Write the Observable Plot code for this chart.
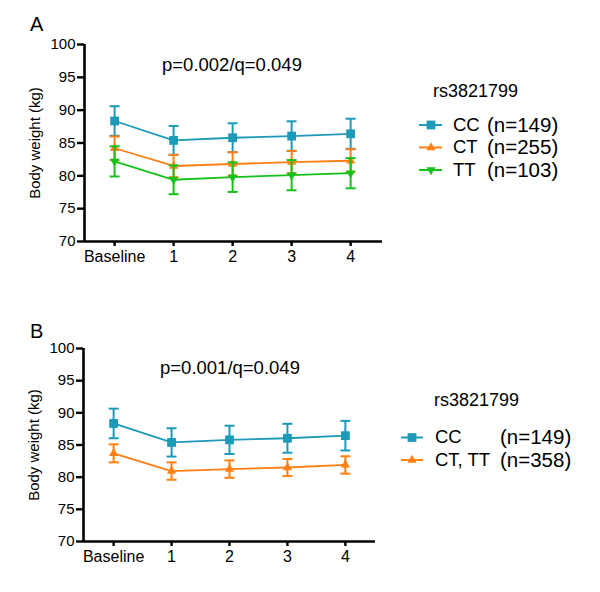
<!DOCTYPE html>
<html><head><meta charset="utf-8">
<script src="https://cdn.jsdelivr.net/npm/d3@7"></script>
<script src="https://cdn.jsdelivr.net/npm/@observablehq/plot@0.6"></script>
<style>
body{margin:0;background:#fff;font-family:"Liberation Sans",Arial,sans-serif;}
#root{position:relative;width:600px;height:592px;overflow:hidden;background:#fff;}
.abs{position:absolute;white-space:nowrap;line-height:1;color:#000;}
.plot{position:absolute;left:0;}
</style></head><body><div id="root"></div>
<script>
// ---- data ----
const timepoints = ["Baseline", "1", "2", "3", "4"];
const snpName = "rs3821799";

// Panel A: three genotypes
const genotypesA = ["CC", "CT", "TT"];
const countsA = [149, 255, 103];
const ccMeanA = [88.35, 85.4, 85.8, 86.05, 86.4];
const ccSeA   = [2.25, 2.2, 2.2, 2.25, 2.3];
const ctMeanA = [84.2, 81.5, 81.8, 82.1, 82.3];
const ctSeA   = [1.8, 1.7, 1.8, 1.7, 1.75];
const ttMeanA = [82.2, 79.4, 79.8, 80.1, 80.4];
const ttSeA   = [2.3, 2.2, 2.25, 2.3, 2.3];
const pTextA = "p=0.002/q=0.049";

// Panel B: CC vs CT+TT
const genotypesB = ["CC", "CT, TT"];
const countsB = [149, 358];
const ccMeanB   = [88.35, 85.4, 85.8, 86.05, 86.45];
const ccSeB     = [2.3, 2.2, 2.2, 2.25, 2.3];
const ctttMeanB = [83.7, 80.95, 81.25, 81.5, 81.9];
const ctttSeB   = [1.4, 1.35, 1.35, 1.33, 1.35];
const pTextB = "p=0.001/q=0.049";

const yTicks = [70, 75, 80, 85, 90, 95, 100];

// ---- styles ----
const TEAL = "#1c9ab8", ORANGE = "#ff7f12", GREEN = "#16c21a";
const FONT = '"Liberation Sans", Arial, Helvetica, sans-serif';

const symSquare = {draw(ctx) { const s = 4.4; ctx.moveTo(-s, -s); ctx.lineTo(s, -s); ctx.lineTo(s, s); ctx.lineTo(-s, s); ctx.closePath(); }};
const symTriUp = {draw(ctx) { const w = 4.6, h = 8; ctx.moveTo(0, -h * 2 / 3); ctx.lineTo(w, h / 3); ctx.lineTo(-w, h / 3); ctx.closePath(); }};
const symTriDown = {draw(ctx) { const w = 4.6, h = 8; ctx.moveTo(0, h * 2 / 3); ctx.lineTo(w, -h / 3); ctx.lineTo(-w, -h / 3); ctx.closePath(); }};
const symCap = {draw(ctx) { ctx.moveTo(-5, 0); ctx.lineTo(5, 0); }};

function seriesRows(mean, se) {
  return mean.map((m, i) => ({i, mean: m, lo: m - se[i], hi: m + se[i]}));
}

function makePanel({series, top, height, marginTop, marginBottom, marginLeft, marginRight, xDomain}) {
  const marks = [];
  for (const s of series) {
    const d = seriesRows(s.mean, s.se);
    marks.push(Plot.ruleX(d, {x: "i", y1: "lo", y2: "hi", stroke: s.color, strokeWidth: 2}));
    marks.push(Plot.dot(d, {x: "i", y: "lo", symbol: symCap, stroke: s.color, strokeWidth: 2, fill: "none"}));
    marks.push(Plot.dot(d, {x: "i", y: "hi", symbol: symCap, stroke: s.color, strokeWidth: 2, fill: "none"}));
    marks.push(Plot.line(d, {x: "i", y: "mean", stroke: s.color, strokeWidth: 1.8}));
    marks.push(Plot.dot(d, {x: "i", y: "mean", symbol: s.symbol, fill: s.color, stroke: "none"}));
  }
  marks.push(Plot.ruleX([xDomain[0]], {stroke: "#000", strokeWidth: 2.6}));
  marks.push(Plot.ruleY([yTicks[0]], {stroke: "#000", strokeWidth: 2.6}));
  marks.push(Plot.axisY({ticks: yTicks, tickSize: 7, tickPadding: 2, strokeWidth: 2.4, fontSize: 15,
    label: "Body weight (kg)", labelAnchor: "center", labelArrow: "none", labelOffset: 55}));
  marks.push(Plot.axisX({ticks: timepoints.map((_, i) => i), tickFormat: i => timepoints[i],
    tickSize: 5, tickPadding: 4, strokeWidth: 2.4, fontSize: 16, label: null}));
  const svg = Plot.plot({
    width: 600, height, marginTop, marginBottom, marginLeft, marginRight,
    style: {fontFamily: FONT, fontSize: "15px", color: "#000", background: "transparent", overflow: "visible"},
    x: {type: "linear", domain: xDomain},
    y: {domain: [yTicks[0], yTicks[yTicks.length - 1]]},
    marks
  });
  svg.classList.add("plot");
  svg.style.top = top + "px";
  return svg;
}

const root = document.getElementById("root");

const seriesA = [
  {mean: ccMeanA, se: ccSeA, color: TEAL, symbol: symSquare},
  {mean: ctMeanA, se: ctSeA, color: ORANGE, symbol: symTriUp},
  {mean: ttMeanA, se: ttSeA, color: GREEN, symbol: symTriDown}
];
const seriesB = [
  {mean: ccMeanB, se: ccSeB, color: TEAL, symbol: symSquare},
  {mean: ctttMeanB, se: ctttSeB, color: ORANGE, symbol: symTriUp}
];

root.appendChild(makePanel({series: seriesA, top: 0, height: 296, marginTop: 44, marginBottom: 55, marginLeft: 84, marginRight: 218, xDomain: [-0.51, 4.54]}));
root.appendChild(makePanel({series: seriesB, top: 296, height: 296, marginTop: 52, marginBottom: 51, marginLeft: 83, marginRight: 225, xDomain: [-0.52, 4.52]}));

// ---- text annotations ----
function addText(str, left, cy, size) {
  const el = document.createElement("div");
  el.className = "abs";
  el.textContent = str;
  el.style.left = left + "px";
  el.style.top = (cy - 0.49 * size) + "px";
  el.style.fontSize = size + "px";
  root.appendChild(el);
  return el;
}
addText("A", 30, 24, 20);
addText("B", 30, 330.5, 20);
addText(pTextA, 162, 65, 18.5);
addText(pTextB, 160, 368.3, 18.5);

// ---- legends ----
const ns = "http://www.w3.org/2000/svg";
const legendSvg = document.createElementNS(ns, "svg");
legendSvg.setAttribute("width", 600); legendSvg.setAttribute("height", 592);
legendSvg.style.position = "absolute"; legendSvg.style.left = "0"; legendSvg.style.top = "0";
root.appendChild(legendSvg);
function symPath(sym) { const p = d3.path(); sym.draw(p, 0); return p.toString(); }
function swatch(x1, x2, xm, y, color, sym) {
  const l = document.createElementNS(ns, "line");
  l.setAttribute("x1", x1); l.setAttribute("x2", x2); l.setAttribute("y1", y); l.setAttribute("y2", y);
  l.setAttribute("stroke", color); l.setAttribute("stroke-width", 2);
  legendSvg.appendChild(l);
  const p = document.createElementNS(ns, "path");
  p.setAttribute("d", symPath(sym)); p.setAttribute("fill", color);
  p.setAttribute("transform", `translate(${xm},${y})`);
  legendSvg.appendChild(p);
}

addText(snpName, 433, 90.5, 18);
const rowsA = [125, 147.5, 170];
genotypesA.forEach((g, k) => {
  swatch(419, 442, 431, rowsA[k], seriesA[k].color, seriesA[k].symbol);
  addText(g, 453, rowsA[k], 18.5);
  addText(`(n=${countsA[k]})`, 487, rowsA[k], 20.5);
});

addText(snpName, 434, 400, 18);
const rowsB = [437.5, 460];
genotypesB.forEach((g, k) => {
  swatch(401, 423, 412, rowsB[k], seriesB[k].color, seriesB[k].symbol);
  addText(g, 435, rowsB[k], 18.5);
  addText(`(n=${countsB[k]})`, 500, rowsB[k], 20.5);
});
</script>
</body></html>
